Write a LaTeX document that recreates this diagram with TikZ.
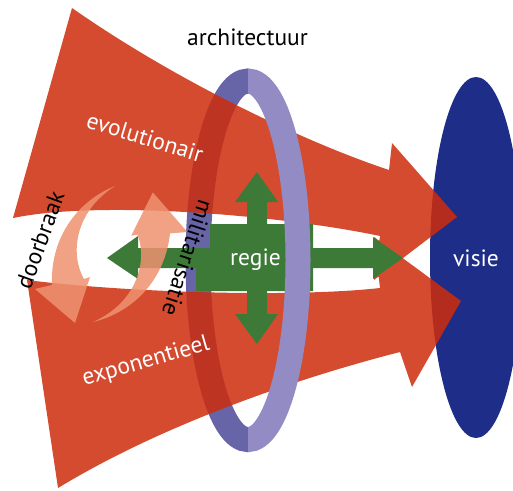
\documentclass[tikz,border=0pt]{standalone}
\usepackage{fontspec}
\setmainfont{PT Sans}
\definecolor{pijlrood}{RGB}{206,44,12}
\definecolor{groen}{RGB}{61,122,55}
\definecolor{donkerpaars}{RGB}{104,100,168}
\definecolor{lichtpaars}{RGB}{147,139,196}
\definecolor{visieblauw}{RGB}{30,45,135}
\definecolor{zalm}{RGB}{238,146,112}
\begin{document}
\begin{tikzpicture}[x=1pt,y=-1pt,
    tekst/.style={font=\fontsize{23.5}{25}\selectfont},
    ring/.style={line width=25pt}]
\useasboundingbox (0,0) rectangle (513,490);
% visie
\fill[visieblauw] (476,257.5) ellipse [x radius=46, y radius=180.5];
% linker helft van de ring
\begin{scope}
  \clip (0,0) rectangle (248,490);
  \draw[ring,donkerpaars] (248,260.3) ellipse [x radius=50, y radius=179.3];
\end{scope}
% rode pijlen
\fill[pijlrood,opacity=.85]
  (72,8) .. controls (172,78) and (299,140) .. (389,170) -- (392,143) -- (457,217) -- (374,280) -- (380,236)
    .. controls (280,215) and (100,200) .. (13,218) -- cycle
  (27,280) .. controls (120,292) and (290,298) .. (380,288) -- (374,237) -- (461,301) -- (412,387) -- (400,352)
    .. controls (310,375) and (170,420) .. (58,488) -- cycle;
% groen kruis
\fill[groen] (210,224) -- (313,224) -- (313,291) -- (196,291) -- (196,248) -- (210,248) -- cycle;
\fill[groen] (196,248) -- (138,248) -- (138,236) -- (107,258) -- (138,279) -- (138,268) -- (196,268) -- cycle;
\fill[groen] (313,248) -- (373,248) -- (373,237) -- (403,258) -- (373,279) -- (373,268) -- (313,268) -- cycle;
\fill[groen] (247,224) -- (247,202) -- (235,202) -- (257,172) -- (278,202) -- (267,202) -- (267,224) -- cycle;
\fill[groen] (247,291) -- (247,314) -- (235,314) -- (257,344) -- (278,314) -- (267,314) -- (267,291) -- cycle;
% rechter helft van de ring
\begin{scope}
  \clip (248,0) rectangle (513,490);
  \draw[ring,lichtpaars] (248,260.3) ellipse [x radius=50, y radius=179.3];
\end{scope}
% doorbraak pijlen
\fill[zalm,opacity=.85] (115,186) .. controls (80,200) and (50,235) .. (52,285) -- (35,289) -- (75,323) -- (90,277) -- (84,279)
  .. controls (70,255) and (74,212) .. (115,186) -- cycle;
\fill[zalm,opacity=.85] (93,322) .. controls (129.7,313.3) and (164.5,283.1) .. (170,233.4) -- (187.4,232) -- (152.8,192.4) -- (131.2,235.7) -- (137.5,234.6)
  .. controls (147.7,260.4) and (137.4,302.4) .. (93,322) -- cycle;
% teksten
\node[tekst,anchor=base] (arch) at (247.5,45.7) {architectuur};
\node[tekst,white,anchor=base] (regie) at (255.5,265) {regie};
\node[tekst,white,anchor=base] (visie) at (476,266) {visie};
\node[tekst,white,rotate=-17] (evo) at (145,137) {evolutionair};
\node[tekst,white,rotate=16] (expo) at (146,362) {exponentieel};
\node[tekst,rotate=70] (door) at (40,240) {doorbraak};
\node[tekst,rotate=-108] (mili) at (188,258) {militarisatie};
\end{tikzpicture}
\end{document}
